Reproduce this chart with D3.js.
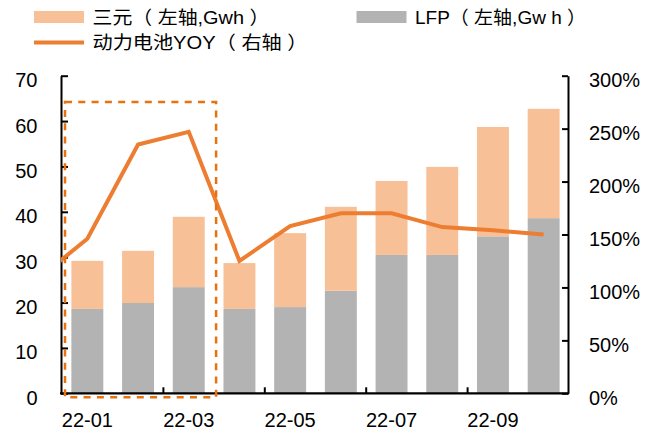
<!DOCTYPE html>
<html>
<head>
<meta charset="utf-8">
<script src="https://cdn.jsdelivr.net/npm/d3@7/dist/d3.min.js"></script>
<style>
  html, body { margin: 0; padding: 0; background: #fff; }
  svg { display: block; }
  text { font-family: "Liberation Sans", Arial, "Noto Sans CJK SC", sans-serif; fill: #000; }
</style>
</head>
<body>
<svg id="chart" width="659" height="439"></svg>
<script>
// Monthly power-battery installations (GWh) and YoY growth
const months   = ["22-01","22-02","22-03","22-04","22-05","22-06","22-07","22-08","22-09","22-10"];
const lfp      = [18.6, 19.9, 23.4, 18.6, 19.0, 22.6, 30.5, 30.5, 34.6, 38.6];
const ternary  = [10.6, 11.5, 15.5, 10.1, 16.3, 18.5, 16.3, 19.4, 24.1, 24.1];
// YoY series starts one month earlier (21-12); that point sits left of the plot and is clipped
const yoyMonths = ["21-12", ...months];
const yoy       = [1.07, 1.46, 2.35, 2.47, 1.25, 1.58, 1.70, 1.70, 1.57, 1.54, 1.50];
const leftTicks  = [0, 10, 20, 30, 40, 50, 60, 70];
const rightTicks = [0, 0.5, 1, 1.5, 2, 2.5, 3];
const xLabels    = ["22-01","22-03","22-05","22-07","22-09"];
const xTickAt    = ["22-03","22-05","22-07","22-09"];
// Highlighted period
const highlight  = { from: "22-01", to: "22-03", top: 64.2 };

const legendItems = [
  { name: "三元（ 左轴,Gwh ）", type: "bar",  color: "#F8C097", width: 177 },
  { name: "LFP（ 左轴,Gw h ）", type: "bar",  color: "#B3B3B3", width: 171 },
  { name: "动力电池YOY（ 右轴 ）", type: "line", color: "#ED7D31", width: 215 }
];

const svg = d3.select("#chart");
const plot = { left: 61, right: 568, top: 75.7, bottom: 393.3 };

const x = d3.scaleBand().domain(months).range([plot.left + 1, plot.right + 1]).paddingInner(0.37).paddingOuter(0.185);
const step = x.step();
const xc = m => x(m) + x.bandwidth() / 2;
const xLine = d3.scalePoint().domain(yoyMonths).range([xc(months[0]) - step, xc(months[months.length - 1])]);

const y  = d3.scaleLinear().domain([0, 70]).range([plot.bottom, plot.top]);
const yR = d3.scaleLinear().domain([0, 3]).range([plot.bottom, plot.top]);

// Stacked bars: LFP at the bottom, ternary on top
const stackData = months.map((m, i) => ({ month: m, lfp: lfp[i], ternary: ternary[i] }));
const series = d3.stack().keys(["lfp", "ternary"])(stackData);
const barColor = { lfp: "#B3B3B3", ternary: "#F8C097" };

svg.append("g").selectAll("g").data(series).join("g")
  .attr("fill", s => barColor[s.key])
  .selectAll("rect").data(s => s).join("rect")
  .attr("x", d => x(d.data.month))
  .attr("width", x.bandwidth())
  .attr("y", d => y(d[1]))
  .attr("height", d => y(d[0]) - y(d[1]));

// Left axis
const gL = svg.append("g").attr("transform", `translate(${plot.left},0)`)
  .call(d3.axisLeft(y).tickValues(leftTicks).tickSize(-7).tickPadding(23.5).tickSizeOuter(0));
// Right axis
const gR = svg.append("g").attr("transform", `translate(${plot.right},0)`)
  .call(d3.axisRight(yR).tickValues(rightTicks).tickFormat(d3.format(".0%")).tickSize(-6).tickPadding(21).tickSizeOuter(0));

[gL, gR].forEach(g => {
  g.select(".domain").attr("stroke", "#000").attr("stroke-width", 2);
  g.selectAll(".tick line").attr("stroke", "#000").attr("stroke-width", 2);
  g.selectAll(".tick text").attr("font-size", 20).attr("dy", "0.55em")
    .attr("font-family", '"Liberation Sans", Arial, sans-serif').attr("fill", "#000");
});

// Bottom axis: baseline, ticks every two months at band boundaries, labels under odd months
const gB = svg.append("g");
gB.append("line").attr("x1", plot.left - 1).attr("x2", plot.right + 1)
  .attr("y1", y(0)).attr("y2", y(0)).attr("stroke", "#000").attr("stroke-width", 2.2);
gB.selectAll("line.tick").data(xTickAt).join("line").attr("class", "tick")
  .attr("x1", d => x(d) - step * x.paddingInner() / 2).attr("x2", d => x(d) - step * x.paddingInner() / 2)
  .attr("y1", y(0)).attr("y2", y(0) - 6).attr("stroke", "#000").attr("stroke-width", 2);
gB.selectAll("text").data(xLabels).join("text")
  .attr("x", d => xc(d)).attr("y", 426.5)
  .attr("text-anchor", "middle").attr("font-size", 20).text(d => d);

// YoY line, clipped to the plot area
svg.append("clipPath").attr("id", "plotClip").append("rect")
  .attr("x", plot.left).attr("y", 0).attr("width", plot.right - plot.left).attr("height", 439);
svg.append("path")
  .datum(yoy.map((v, i) => ({ m: yoyMonths[i], v })))
  .attr("clip-path", "url(#plotClip)")
  .attr("fill", "none").attr("stroke", "#ED7D31").attr("stroke-width", 4)
  .attr("stroke-linejoin", "miter")
  .attr("d", d3.line().x(d => xLine(d.m)).y(d => yR(d.v)));

// Dashed box around the highlighted months
const hx0 = x(highlight.from) - step * x.paddingInner() / 2 + 3;
const hx1 = x(highlight.to) + x.bandwidth() + step * x.paddingInner() / 2 + 2;
svg.append("rect")
  .attr("x", hx0).attr("y", y(highlight.top))
  .attr("width", hx1 - hx0).attr("height", y(0) + 4 - y(highlight.top))
  .attr("fill", "none").attr("stroke", "#E8720F").attr("stroke-width", 2.5)
  .attr("stroke-dasharray", "7,6.3");

// Legend
const legPos = [
  { sx: 34, sy: 17, tx: 92.5, ty: 24 },
  { sx: 356.5, sy: 17, tx: 415, ty: 24 },
  { sx: 34, sy: 42.5, tx: 92.5, ty: 49 }
];
const lg = svg.append("g");
legendItems.forEach((it, i) => {
  const p = legPos[i];
  if (it.type === "bar") {
    lg.append("rect").attr("x", p.sx).attr("y", p.sy - 6).attr("width", 50).attr("height", 12).attr("fill", it.color);
  } else {
    lg.append("rect").attr("x", p.sx).attr("y", p.sy - 2).attr("width", 50).attr("height", 4).attr("fill", it.color);
  }
  lg.append("text").attr("x", p.tx).attr("y", p.ty).attr("font-size", 18.5)
    .attr("textLength", it.width).attr("lengthAdjust", "spacingAndGlyphs").text(it.name);
});
</script>
</body>
</html>
